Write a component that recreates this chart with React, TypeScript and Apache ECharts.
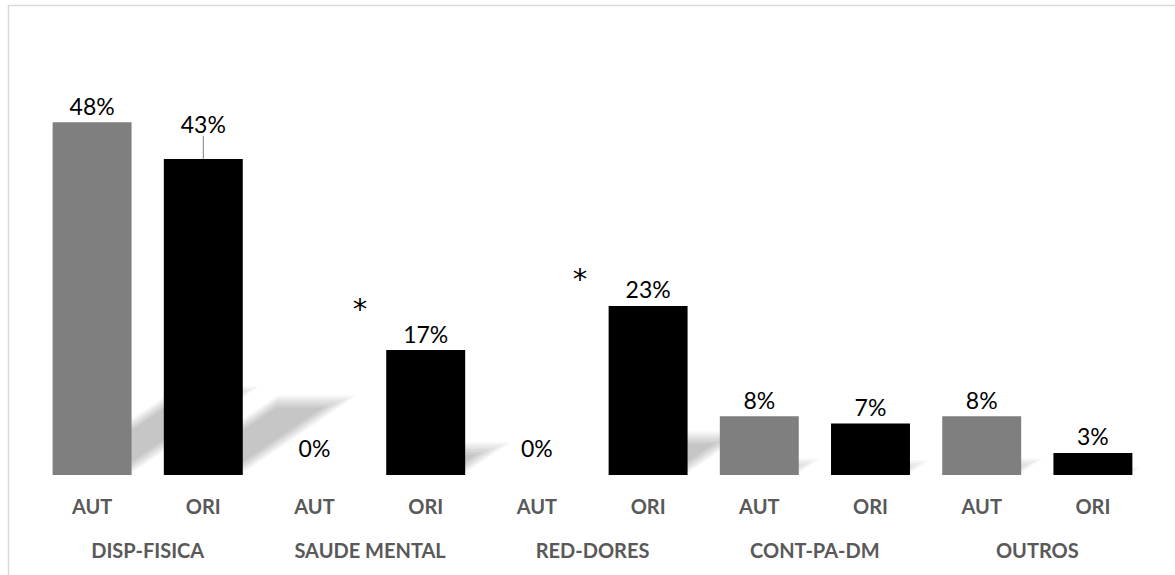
import React, { useEffect, useRef } from 'react';
import * as echarts from 'echarts';

const barLabels = ['AUT', 'ORI', 'AUT', 'ORI', 'AUT', 'ORI', 'AUT', 'ORI', 'AUT', 'ORI'];
const groups = ['DISP-FISICA', 'SAUDE MENTAL', 'RED-DORES', 'CONT-PA-DM', 'OUTROS'];
const values = [48, 43, 0, 17, 0, 23, 8, 7, 8, 3];
const autColor = '#7f7f7f';
const oriColor = '#000000';

const FONT = 'Lato, "Open Sans", sans-serif';

export default function App() {
  const ref = useRef<HTMLDivElement>(null);
  useEffect(() => {
    document.body.style.margin = '0';
    const chart = echarts.init(ref.current!, undefined, { renderer: 'svg' });
    const option: any = {
      animation: false,
      backgroundColor: '#ffffff',
      grid: { left: 36.5, right: 26.5, top: 34, bottom: 100 },
      xAxis: [
        {
          type: 'category',
          data: barLabels,
          axisLine: { show: false },
          axisTick: { show: false },
          axisLabel: { margin: 21, fontFamily: FONT, fontWeight: 'bold', fontSize: 20, color: '#595959', interval: 0 },
        },
        {
          type: 'category',
          data: groups,
          position: 'bottom',
          axisLine: { show: false },
          axisTick: { show: false },
          axisLabel: { margin: 65, fontFamily: FONT, fontWeight: 'bold', fontSize: 20, color: '#595959', interval: 0 },
        },
      ],
      yAxis: { type: 'value', min: 0, max: 60, show: false, splitLine: { show: false } },
      series: [
        {
          type: 'custom',
          xAxisIndex: 0,
          z: 1,
          silent: true,
          data: values.map((v, i) => [i, v]),
          renderItem: (params: any, api: any) => {
            const v = api.value(1);
            if (!v) return null;
            const base = api.coord([api.value(0), 0]);
            const top = api.coord([api.value(0), v]);
            const size = api.size([1, 0]);
            const bw = size[0] * 0.71;
            const h = base[1] - top[1];
            const x0 = base[0] - bw / 2;
            const x1 = base[0] + bw / 2;
            const y = base[1] - 2;
            const dx = h * 0.36;
            const dy = h * 0.245;
            const layers = 6;
            const children: any[] = [];
            for (let k = 0; k < layers; k++) {
              const ins = k * 3.2;
              const t = Math.min(k * 2.4, dy * 0.45);
              const b = Math.min(k * 1.6, dy * 0.3);
              const fx = dx / dy;
              const yb = y - b;
              const yt = y - dy + t;
              children.push({
                type: 'polygon',
                shape: {
                  points: [
                    [x0 + ins + b * fx, yb],
                    [x1 - ins + b * fx, yb],
                    [x1 - ins + (y - yt) * fx, yt],
                    [x0 + ins + (y - yt) * fx, yt],
                  ],
                },
                style: { fill: 'rgba(0,0,0,0.04)' },
              });
            }
            return { type: 'group', children };
          },
        },
        {
          type: 'bar',
          xAxisIndex: 0,
          z: 2,
          barWidth: '71%',
          data: values.map((v, i) => ({
            value: v,
            itemStyle: { color: i % 2 === 0 ? autColor : oriColor },
            label: v === 0 ? { distance: 16 } : undefined,
            labelLine: i === 1 ? { show: true, length2: 0, lineStyle: { color: '#7f7f7f', width: 1 } } : undefined,
          })),
          label: {
            show: true,
            position: 'top',
            distance: 5,
            formatter: '{c}%',
            fontFamily: FONT,
            fontSize: 23,
            color: '#000000',
          },
          labelLayout: (p: any) => (p.dataIndex === 1 ? { dy: -18 } : {}),
        },
      ],
      graphic: [
        {
          type: 'rect',
          shape: { x: 8.5, y: 5.5, width: 1200, height: 600 },
          style: { fill: 'none', stroke: '#d9d9d9', lineWidth: 1.5 },
          silent: true,
        },
        { type: 'text', x: 360, y: 309, style: { text: '*', fontFamily: '"DejaVu Sans", sans-serif', fontSize: 29, fill: '#000000', align: 'center', verticalAlign: 'middle' } },
        { type: 'text', x: 580, y: 279, style: { text: '*', fontFamily: '"DejaVu Sans", sans-serif', fontSize: 29, fill: '#000000', align: 'center', verticalAlign: 'middle' } },
      ],
    };
    chart.setOption(option);
    return () => chart.dispose();
  }, []);
  return <div ref={ref} style={{ width: 1175, height: 575 }} />;
}
